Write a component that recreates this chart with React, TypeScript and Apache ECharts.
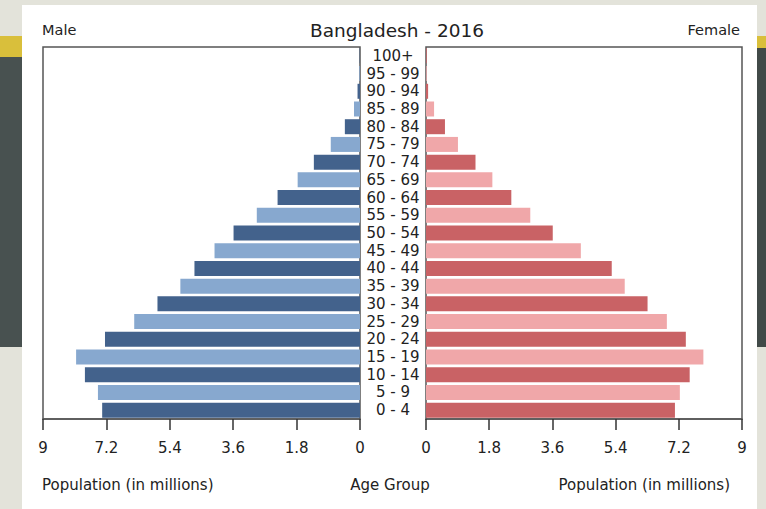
import React, { useEffect, useRef } from "react";
import * as echarts from "echarts";

const ageGroups = [
  "0 - 4", "5 - 9", "10 - 14", "15 - 19", "20 - 24", "25 - 29", "30 - 34",
  "35 - 39", "40 - 44", "45 - 49", "50 - 54", "55 - 59", "60 - 64", "65 - 69",
  "70 - 74", "75 - 79", "80 - 84", "85 - 89", "90 - 94", "95 - 99", "100+",
];
const maleValues = [
  7.32, 7.44, 7.81, 8.06, 7.24, 6.41, 5.75, 5.1, 4.7, 4.13, 3.59, 2.93, 2.34,
  1.77, 1.31, 0.83, 0.43, 0.17, 0.07, 0.02, 0.01,
];
const femaleValues = [
  7.09, 7.23, 7.51, 7.9, 7.4, 6.86, 6.31, 5.66, 5.29, 4.41, 3.61, 2.97, 2.43,
  1.89, 1.41, 0.91, 0.54, 0.23, 0.06, 0.02, 0.02,
];
const axisTicks = [0, 1.8, 3.6, 5.4, 7.2, 9];

const FONT = "DejaVu Sans";
const maleDark = "#43628c";
const maleLight = "#87a8cf";
const femaleDark = "#c96265";
const femaleLight = "#f0a7a9";

export default function App() {
  const ref = useRef<HTMLDivElement>(null);
  useEffect(() => {
    document.body.style.margin = "0";
    const chart = echarts.init(ref.current!, null, { renderer: "svg" });
    const fmt = (v: number) => {
      const r = Math.round(v * 10) / 10;
      return axisTicks.some((t) => Math.abs(t - r) < 1e-6) ? String(r) : "";
    };
    const xCommon = {
      min: 0,
      max: 9,
      interval: 1.8,
      splitLine: { show: false },
      axisLine: { show: true, lineStyle: { color: "#555", width: 1.5 } },
      axisTick: { show: true, length: 11, lineStyle: { color: "#333", width: 1.5 } },
      axisLabel: {
        margin: 21,
        fontFamily: FONT,
        fontSize: 15,
        color: "#222",
        formatter: fmt,
        showMinLabel: true,
        showMaxLabel: true,
      },
    };
    chart.setOption({
      animation: false,
      backgroundColor: "#e3e3da",
      graphic: [
        { type: "rect", z: -10, shape: { x: 0, y: 36, width: 22, height: 21 }, style: { fill: "#d9bf3b" } },
        { type: "rect", z: -10, shape: { x: 0, y: 57, width: 22, height: 290 }, style: { fill: "#485150" } },
        { type: "rect", z: -10, shape: { x: 757, y: 36, width: 9, height: 12 }, style: { fill: "#d9bf3b" } },
        { type: "rect", z: -10, shape: { x: 757, y: 48, width: 9, height: 299 }, style: { fill: "#414a48" } },
        { type: "rect", z: -9, shape: { x: 22, y: 5, width: 735, height: 504 }, style: { fill: "#ffffff" } },
        {
          type: "text", left: 42, top: 22,
          style: { text: "Male", fontFamily: FONT, fontSize: 14.5, fill: "#222" },
        },
        {
          type: "text", right: 26, top: 22,
          style: { text: "Female", fontFamily: FONT, fontSize: 14.5, fill: "#222" },
        },
        {
          type: "text", left: 42, top: 477,
          style: { text: "Population (in millions)", fontFamily: FONT, fontSize: 15, fill: "#222" },
        },
        {
          type: "text", right: 36, top: 477,
          style: { text: "Population (in millions)", fontFamily: FONT, fontSize: 15, fill: "#222" },
        },
        {
          type: "text", x: 390, y: 477,
          style: { text: "Age Group", fontFamily: FONT, fontSize: 15, fill: "#222", textAlign: "center" },
        },
      ],
      title: {
        text: "Bangladesh - 2016",
        left: 392,
        top: 16,
        textAlign: "center",
        textStyle: { fontFamily: FONT, fontSize: 18.5, fontWeight: "normal", color: "#222" },
      },
      grid: [
        { left: 43, top: 47, width: 317, height: 372, show: true, borderColor: "#555", borderWidth: 1.5, backgroundColor: "#fff" },
        { left: 426, top: 47, width: 316, height: 372, show: true, borderColor: "#555", borderWidth: 1.5, backgroundColor: "#fff" },
      ],
      xAxis: [
        { ...xCommon, type: "value", gridIndex: 0, inverse: true },
        { ...xCommon, type: "value", gridIndex: 1 },
      ],
      yAxis: [
        {
          type: "category", gridIndex: 0, data: ageGroups, position: "right",
          axisLine: { show: false }, axisTick: { show: false }, axisLabel: { show: false },
        },
        {
          type: "category", gridIndex: 1, data: ageGroups, position: "left",
          axisLine: { show: false }, axisTick: { show: false },
          axisLabel: {
            interval: 0, hideOverlap: false,
            align: "center", margin: 33, fontFamily: FONT, fontSize: 15, color: "#222",
            padding: [3, 0, 0, 0],
          },
        },
      ],
      series: [
        {
          type: "bar", xAxisIndex: 0, yAxisIndex: 0, data: maleValues, barWidth: 15,
          itemStyle: { color: (p: any) => (p.dataIndex % 2 === 0 ? maleDark : maleLight) },
        },
        {
          type: "bar", xAxisIndex: 1, yAxisIndex: 1, data: femaleValues, barWidth: 15,
          itemStyle: { color: (p: any) => (p.dataIndex % 2 === 0 ? femaleDark : femaleLight) },
        },
      ],
    });
    return () => chart.dispose();
  }, []);
  return <div ref={ref} style={{ width: 766, height: 509 }} />;
}
